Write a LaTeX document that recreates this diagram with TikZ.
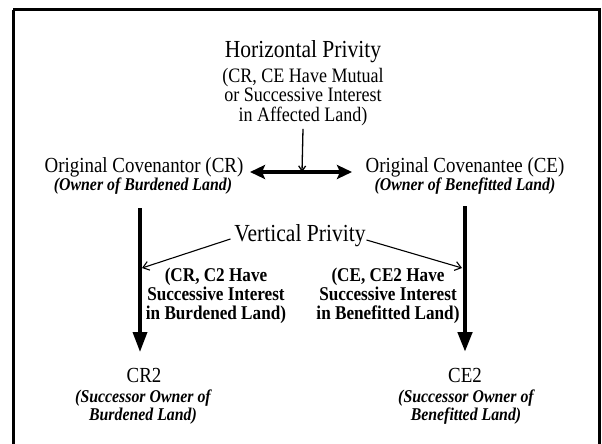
\documentclass[tikz,border=0pt]{standalone}
\usepackage{fontspec}
\setmainfont{Liberation Serif}[FakeStretch=0.88]
\usetikzlibrary{arrows.meta}
\begin{document}
\begin{tikzpicture}[x=1pt,y=-1pt,
  every node/.style={inner sep=0pt, outer sep=0pt, align=center},
  heading/.style={font=\fontsize{24.5}{26}\selectfont},
  party/.style={font=\fontsize{21.5}{23}\selectfont},
  plain/.style={font=\fontsize{20.5}{19.5}\selectfont},
  role/.style={font=\fontsize{18}{18.5}\selectfont\bfseries\itshape},
  note/.style={font=\fontsize{19.5}{19}\selectfont\bfseries},
  frame/.style={line width=3pt},
  pointer/.style={line width=1.1pt, -{Straight Barb[length=6pt,width=9pt]}},
  stem/.style={line width=1.3pt, -{Straight Barb[length=5pt,width=7pt]}},
  mutual/.style={line width=3.5pt, {Stealth[length=15pt,width=14pt,inset=3pt]}-{Stealth[length=15pt,width=14pt,inset=3pt]}},
  succession/.style={-{Triangle[length=20pt,width=14pt]}}
]
\useasboundingbox (0,0) rectangle (602,444);
\fill[white] (0,0) rectangle (602,444);
\draw[frame] (13,10) -- (13,460) (13,10) -- (599,10) -- (599,460);

% horizontal privity
\node[heading] (hp) at (303,52) {Horizontal Privity};
\node[plain] (hpnote) at (303,97) {(CR, CE Have Mutual\\or Successive Interest\\in Affected Land)};

% original parties
\node[party] (cr) at (144,167) {Original Covenantor (CR)};
\node[role] (crown) at (143,186) {(Owner of Burdened Land)};
\node[party] (ce) at (465,167) {Original Covenantee (CE)};
\node[role] (ceown) at (465,186) {(Owner of Benefitted Land)};

\coordinate (hmid) at (302,172);
\draw[mutual] (250,172) -- (352,172);
\draw[stem] (hpnote.south) ++(0,3) -- (hmid);

% successors
\node[party] (cr2) at (144,375) {CR2};
\node[role] (cr2own) at (143,407) {(Successor Owner of\\Burdened Land)};
\node[party] (ce2) at (465,375) {CE2};
\node[role] (ce2own) at (466,407) {(Successor Owner of\\Benefitted Land)};

\coordinate (ltop) at (140,208);
\coordinate (ltip) at (140,352);
\coordinate (rtop) at (465,206);
\coordinate (rtip) at (465,352);
\draw[succession, line width=3.5pt] (ltop) -- (ltip);
\draw[succession, line width=4.5pt] (rtop) -- (rtip);

% vertical privity
\node[heading] (vp) at (300,236) {Vertical Privity};
\coordinate (lhit) at (142,268);
\coordinate (rhit) at (462,268);
\draw[pointer] (vp.west) ++(-4,3) -- (lhit);
\draw[pointer] (vp.east) ++(1,4) -- (rhit);

\node[note] (crnote) at (216,296) {(CR, C2 Have\\Successive Interest\\in Burdened Land)};
\node[note] (cenote) at (388,296) {(CE, CE2 Have\\Successive Interest\\in Benefitted Land)};
\end{tikzpicture}
\end{document}
